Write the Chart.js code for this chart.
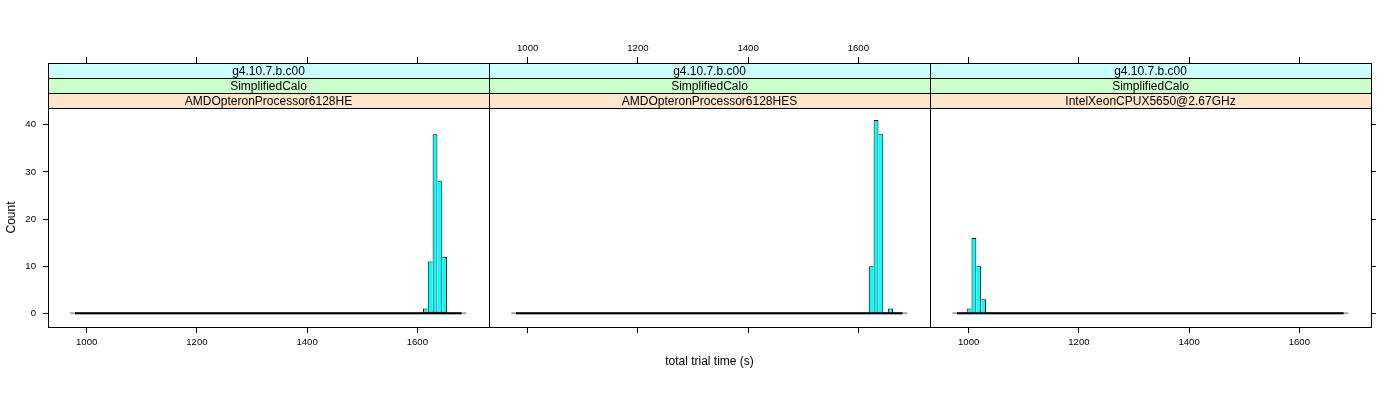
<!DOCTYPE html>
<html>
<head>
<meta charset="utf-8">
<script src="https://cdn.jsdelivr.net/npm/chart.js@4/dist/chart.umd.min.js"></script>
<style>
  html, body { margin: 0; padding: 0; background: #ffffff; }
  #wrap { position: relative; width: 1400px; height: 400px; }
  #wrap canvas { position: absolute; left: 0; top: 0; }
</style>
</head>
<body>
<div id="wrap">
  <canvas id="c0" width="1400" height="400"></canvas>
  <canvas id="c1" width="1400" height="400"></canvas>
  <canvas id="c2" width="1400" height="400"></canvas>
</div>
<script>
// ---------------- data ----------------
const processors = ["AMDOpteronProcessor6128HE", "AMDOpteronProcessor6128HES", "IntelXeonCPUX5650@2.67GHz"];
const benchmarks = ["SimplifiedCalo", "SimplifiedCalo", "SimplifiedCalo"];
const versions   = ["g4.10.7.b.c00", "g4.10.7.b.c00", "g4.10.7.b.c00"];

// histogram breaks (seconds): first break and bin width, 80 bins
const binStart = 978.8;
const binWidth = 8.77;

const countsHE = [
  0,0,0,0,0,0,0,0,0,0,0,0,0,0,0,0,0,0,0,0,
  0,0,0,0,0,0,0,0,0,0,0,0,0,0,0,0,0,0,0,0,
  0,0,0,0,0,0,0,0,0,0,0,0,0,0,0,0,0,0,0,0,
  0,0,0,0,0,0,0,0,0,0,0,0,1,11,38,28,12,0,0,0
];
const countsHES = [
  0,0,0,0,0,0,0,0,0,0,0,0,0,0,0,0,0,0,0,0,
  0,0,0,0,0,0,0,0,0,0,0,0,0,0,0,0,0,0,0,0,
  0,0,0,0,0,0,0,0,0,0,0,0,0,0,0,0,0,0,0,0,
  0,0,0,0,0,0,0,0,0,0,0,0,0,10,41,38,0,1,0,0
];
const countsXeon = [
  0,0,1,16,10,3,0,0,0,0,0,0,0,0,0,0,0,0,0,0,
  0,0,0,0,0,0,0,0,0,0,0,0,0,0,0,0,0,0,0,0,
  0,0,0,0,0,0,0,0,0,0,0,0,0,0,0,0,0,0,0,0,
  0,0,0,0,0,0,0,0,0,0,0,0,0,0,0,0,0,0,0,0
];
const panelCounts = [countsHE, countsHES, countsXeon];

const xTickValues = [1000, 1200, 1400, 1600];
const yTickValues = [0, 10, 20, 30, 40];
const xLimits = [929.8, 1730.1];
const yLimits = [-2.9, 43.55];
const xTitle = "total trial time (s)";
const yTitle = "Count";

// ---------------- layout / style ----------------
const W = 1400, H = 400;
const PANEL_LEFT  = [48, 489, 930];
const PANEL_RIGHT = [489, 930, 1371];
const AREA_TOP = 63, AREA_BOTTOM = 327;
const STRIP_H = 15;
const STRIP_COLORS = ["#ccffff", "#ccffcc", "#ffe5cc"];
const FONT = "'Liberation Sans', Arial, Helvetica, sans-serif";
Chart.defaults.font.family = FONT;
Chart.defaults.color = "#000";

const nStrips = 3;
const plotPx = AREA_BOTTOM - AREA_TOP - nStrips * STRIP_H;
const yAxisMax = yLimits[1] + nStrips * STRIP_H * (yLimits[1] - yLimits[0]) / plotPx;

const nBins = countsHE.length;
const binCenters = countsHE.map((_, j) => binStart + (j + 0.5) * binWidth);
const binEnd = binStart + nBins * binWidth;

const decor = {
  id: 'decor',
  afterDraw(chart, args, opts) {
    const { ctx, chartArea: a, scales } = chart;
    const ys = scales.y;
    const stripBottom = ys.getPixelForValue(yLimits[1]);
    const rowH = (stripBottom - a.top) / nStrips;
    const labels = [versions[opts.idx], benchmarks[opts.idx], processors[opts.idx]];
    ctx.save();
    ctx.lineWidth = 1;
    ctx.strokeStyle = '#000';
    labels.forEach((txt, k) => {
      const top = a.top + k * rowH;
      ctx.fillStyle = STRIP_COLORS[k];
      ctx.fillRect(a.left, top, a.right - a.left, rowH);
      ctx.strokeRect(a.left + 0.5, Math.round(top) + 0.5, a.right - a.left, Math.round(rowH));
      ctx.fillStyle = '#000';
      ctx.font = "12px " + FONT;
      ctx.textAlign = 'center';
      ctx.textBaseline = 'alphabetic';
      ctx.fillText(txt, (a.left + a.right) / 2, top + 11.5);
    });
    ctx.strokeRect(a.left + 0.5, a.top + 0.5, a.right - a.left, a.bottom - a.top);
    if (opts.idx === 0) {
      ctx.save();
      ctx.translate(12, (stripBottom + a.bottom) / 2);
      ctx.rotate(-Math.PI / 2);
      ctx.font = "12px " + FONT;
      ctx.textAlign = 'center';
      ctx.textBaseline = 'middle';
      ctx.fillStyle = '#000';
      ctx.fillText(yTitle, 0, 0);
      ctx.restore();
    }
    ctx.restore();
  }
};

function barBorder(counts) {
  return (c) => {
    const j = c.dataIndex;
    const h = counts[j];
    if (!h) return 0;
    const prev = j > 0 ? counts[j - 1] : 0;
    const next = j < counts.length - 1 ? counts[j + 1] : 0;
    return { top: 1, bottom: 1, left: h > prev ? 1 : 0, right: h >= next ? 1 : 0 };
  };
}

const plainLabel = v => String(v);

function makeChart(i) {
  const counts = panelCounts[i];
  const setX = s => { s.ticks = xTickValues.map(v => ({ value: v })); };
  const setY = s => { s.ticks = yTickValues.map(v => ({ value: v })); };
  const tickFont = { size: 9.6 };
  const scales = {
    x: {
      type: 'linear', position: 'bottom', min: xLimits[0], max: xLimits[1], offset: false,
      afterBuildTicks: setX,
      ticks: { display: i !== 1, font: tickFont, color: '#000', padding: 4, maxRotation: 0, autoSkip: false, callback: plainLabel },
      grid: { offset: false, drawOnChartArea: false, drawTicks: true, tickLength: 6, color: '#000' },
      border: { display: false },
      title: i === 1
        ? { display: true, text: xTitle, font: { size: 12 }, color: '#000', padding: { top: 0, bottom: 31 } }
        : { display: false },
      afterFit: s => { s.height = H - AREA_BOTTOM; }
    },
    xTop: {
      type: 'linear', position: 'top', min: xLimits[0], max: xLimits[1], offset: false,
      afterBuildTicks: setX,
      ticks: { display: i === 1, font: tickFont, color: '#000', padding: 3, maxRotation: 0, autoSkip: false, callback: plainLabel },
      grid: { offset: false, drawOnChartArea: false, drawTicks: true, tickLength: 6, color: '#000' },
      border: { display: false },
      afterFit: s => { s.height = AREA_TOP; }
    },
    y: {
      type: 'linear', position: 'left', min: yLimits[0], max: yAxisMax, display: i === 0,
      afterBuildTicks: setY,
      ticks: { font: tickFont, color: '#000', padding: 7, callback: plainLabel },
      grid: { drawOnChartArea: false, drawTicks: true, tickLength: 5, color: '#000' },
      border: { display: false },
      afterFit: s => { s.width = i === 0 ? PANEL_LEFT[0] : 0; }
    }
  };
  if (i === 2) {
    scales.yRight = {
      type: 'linear', position: 'right', min: yLimits[0], max: yAxisMax,
      afterBuildTicks: setY,
      ticks: { display: false },
      grid: { drawOnChartArea: false, drawTicks: true, tickLength: 5, color: '#000' },
      border: { display: false },
      afterFit: s => { s.width = W - PANEL_RIGHT[2]; }
    };
  }
  return new Chart(document.getElementById('c' + i), {
    type: 'bar',
    data: {
      datasets: [
        {
          type: 'bar',
          data: counts.map((v, j) => ({ x: binCenters[j], y: v })),
          backgroundColor: c => (counts[c.dataIndex] ? '#00ffff' : 'rgba(0,0,0,0)'),
          borderColor: '#000',
          borderWidth: barBorder(counts),
          borderSkipped: false,
          inflateAmount: 0,
          barPercentage: 1,
          categoryPercentage: 1,
          xAxisID: 'x', yAxisID: 'y',
          order: 1
        },
        {
          type: 'line',
          data: [{ x: binStart, y: 0 }, { x: binEnd, y: 0 }],
          borderColor: '#000', borderWidth: 2, pointRadius: 0,
          xAxisID: 'x', yAxisID: 'y', order: 2
        },
        {
          type: 'line',
          data: [{ x: binStart - binWidth, y: 0 }, { x: binEnd + binWidth, y: 0 }],
          borderColor: '#a8a8a8', borderWidth: 2, pointRadius: 0,
          xAxisID: 'x', yAxisID: 'y', order: 3
        }
      ]
    },
    options: {
      responsive: false,
      animation: false,
      devicePixelRatio: 1,
      layout: {
        padding: {
          left: i === 0 ? 0 : PANEL_LEFT[i],
          right: i === 2 ? 0 : W - PANEL_RIGHT[i],
          top: 0, bottom: 0
        }
      },
      plugins: { legend: { display: false }, tooltip: { enabled: false }, decor: { idx: i } },
      scales
    },
    plugins: [decor]
  });
}

[0, 1, 2].forEach(makeChart);
</script>
</body>
</html>
